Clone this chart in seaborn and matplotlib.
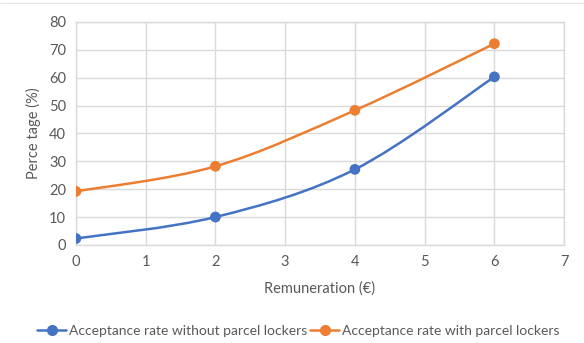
import numpy as np
import pandas as pd
import seaborn as sns
import matplotlib.pyplot as plt
from matplotlib.path import Path
from matplotlib.patches import PathPatch
from matplotlib.lines import Line2D

# Data
remuneration = [0, 2, 4, 6]
without_lockers = [2.3, 10.0, 27.1, 60.3]
with_lockers = [19.2, 28.2, 48.3, 72.2]
series_names = ["Acceptance rate without parcel lockers",
                "Acceptance rate with parcel lockers"]
x_ticks = [0, 1, 2, 3, 4, 5, 6, 7]
y_ticks = [0, 10, 20, 30, 40, 50, 60, 70, 80]

colors = ["#4472C4", "#ED7D31"]
text_color = "#595959"
grid_color = "#D9D9D9"

sns.set_theme(style="white")
plt.rcParams["font.family"] = ["Lato", "DejaVu Sans"]

df = pd.DataFrame({
    "x": remuneration * 2,
    "y": without_lockers + with_lockers,
    "series": [series_names[0]] * 4 + [series_names[1]] * 4,
})

fig = plt.figure(figsize=(5.84, 3.43), dpi=100)
ax = fig.add_axes([0.130, 0.286, 0.836, 0.650])


def smooth_path(xs, ys):
    """Cubic Bezier path through the points (spreadsheet-style smoothing)."""
    pts = np.column_stack([xs, ys]).astype(float)
    n = len(pts)
    verts = [pts[0]]
    codes = [Path.MOVETO]
    for i in range(n - 1):
        p0 = pts[i - 1] if i > 0 else pts[i]
        p1 = pts[i]
        p2 = pts[i + 1]
        p3 = pts[i + 2] if i + 2 < n else pts[i + 1]
        c1 = p1 + (p2 - p0) / 6.0
        c2 = p2 - (p3 - p1) / 6.0
        verts += [c1, c2, p2]
        codes += [Path.CURVE4] * 3
    return Path(verts, codes)


# Markers through seaborn
sns.scatterplot(data=df, x="x", y="y", hue="series", palette=colors,
                s=60, edgecolor="none", legend=False, ax=ax, zorder=4)

# Smoothed connecting lines
for name, color in zip(series_names, colors):
    sub = df[df["series"] == name]
    patch = PathPatch(smooth_path(sub["x"].values, sub["y"].values),
                      facecolor="none", edgecolor=color, lw=1.8, zorder=3,
                      capstyle="round", joinstyle="round")
    ax.add_patch(patch)

ax.set_xlim(0, 7)
ax.set_ylim(0, 80)
ax.set_xticks(x_ticks)
ax.set_yticks(y_ticks)
ax.grid(True, color=grid_color, lw=1.0)
ax.set_axisbelow(True)
for s in ax.spines.values():
    s.set_color(grid_color)
    s.set_linewidth(1.0)
ax.tick_params(axis="both", length=0, labelsize=10.5, labelcolor=text_color,
               pad=7)
ax.set_xlabel("Remuneration (€)", fontsize=10.5, color=text_color, labelpad=9)
ax.set_ylabel("Perce tage (%)", fontsize=10.5, color=text_color, labelpad=6)

handles = [Line2D([0], [0], color=c, lw=1.8, marker="o", markersize=7)
           for c in colors]
fig.legend(handles, series_names, loc="center", bbox_to_anchor=(0.511, 0.035),
           ncol=2, frameon=False, fontsize=10, labelcolor=text_color,
           handlelength=2.1, handletextpad=0.2, columnspacing=0.2)

# Thin frame line along the top of the figure
fig.add_artist(Line2D([0, 1], [0.99, 0.99], transform=fig.transFigure,
                      color="#E6E6E6", lw=0.8))

fig.savefig("out.png", dpi=100)
